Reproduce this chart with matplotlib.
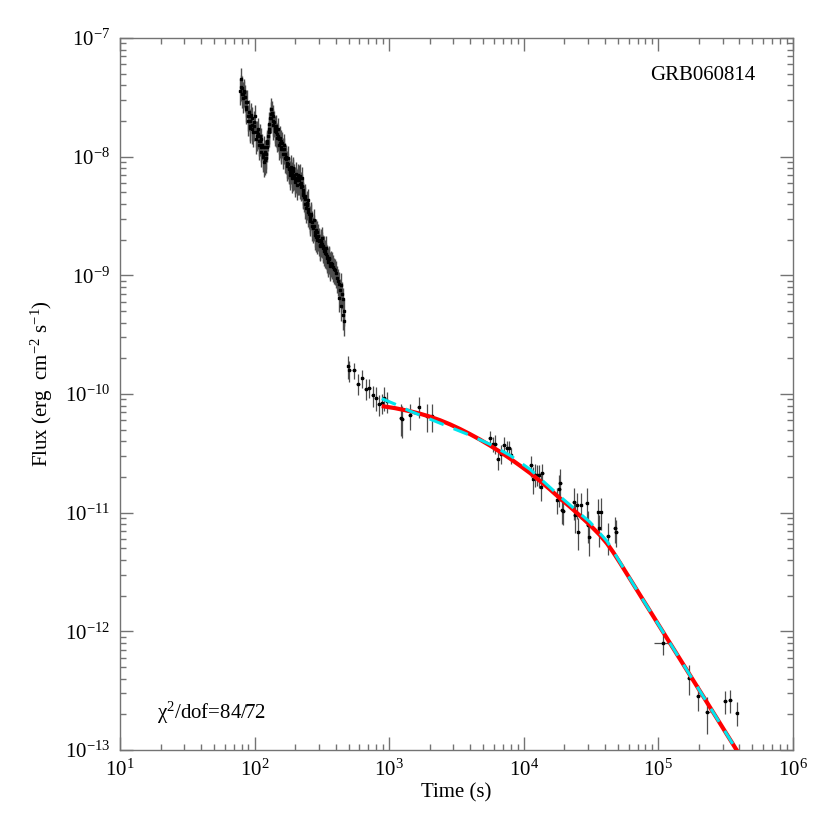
import matplotlib
matplotlib.use("Agg")
import matplotlib.pyplot as plt
from matplotlib.ticker import LogLocator, NullFormatter
import numpy as np

plt.rcParams["font.family"] = ["Liberation Serif", "DejaVu Serif"]
plt.rcParams["mathtext.fontset"] = "custom"
plt.rcParams["mathtext.rm"] = "Liberation Serif"
plt.rcParams["mathtext.it"] = "Liberation Serif:italic"
plt.rcParams["axes.unicode_minus"] = False

# early steep decay + flares
t_early = [78.5, 79.3, 80.1, 81.2, 82.6, 84.0, 85.6, 87.0, 88.6, 90.1,
           91.7, 93.2, 94.9, 96.4, 98.2, 100.5, 101.6, 103.3, 105.1, 106.9,
           108.8, 110.7, 112.5, 114.6, 116.5, 118.5, 120.5, 122.6, 124.6, 126.9,
           129.0, 131.3, 133.5, 135.9, 138.1, 140.6, 143.0, 145.5, 148.0, 150.5,
           153.1, 155.8, 158.4, 161.2, 164.0, 166.9, 169.7, 172.6, 175.6, 178.7,
           181.7, 184.8, 188.0, 191.3, 194.5, 197.9, 201.3, 204.8, 208.3, 211.9,
           215.6, 219.3, 223.1, 226.9, 230.8, 234.8, 238.8, 243.0, 247.2, 251.4,
           255.8, 260.1, 264.6, 269.2, 273.9, 278.6, 283.4, 288.3, 293.2, 298.4,
           303.5, 308.8, 314.1, 319.5, 325.0, 330.6, 336.3, 342.1, 348.1, 354.0,
           360.2, 369.5, 382.4, 395.7, 409.5, 420.6, 426.6, 435.5, 441.5, 450.7,
           456.7, 459.0, 461.5,
           79.8, 81.9, 83.3, 84.8, 86.3, 87.8, 89.3, 90.9, 92.4, 94.0,
           95.6, 97.3, 99.3, 102.4, 104.2, 106.0, 107.8, 109.7, 111.6, 113.5,
           115.5, 117.5, 119.5, 121.6, 123.6, 125.8, 128.0, 130.1, 132.4, 134.7,
           137.0, 139.3, 141.8, 144.2, 146.7, 149.2, 151.8, 154.4, 157.1, 159.8,
           162.6, 165.4, 168.3, 171.2, 174.1, 177.2, 180.2, 183.3, 186.4, 189.6,
           192.9, 196.2, 199.6, 203.0, 206.5, 210.1, 213.8, 217.4, 221.2, 225.0,
           228.9, 232.8, 236.8, 240.9, 245.1, 249.3, 253.6, 258.0, 262.4, 266.9,
           271.6, 276.2, 281.0, 285.8, 290.8, 295.8, 301.0, 306.1, 311.4, 316.8,
           322.3, 327.8, 333.4, 339.2, 345.1, 351.0, 357.1, 364.8, 375.9, 389.0,
           402.6, 415.0, 431.0, 446.0]
f_early = [3.6e-8, 4.5e-8, 3.4e-8, 3.8e-8, 3.1e-8, 3.5e-8, 2.9e-8, 2.6e-8, 2.2e-8, 2.4e-8,
           2.0e-8, 1.8e-8, 2.1e-8, 1.7e-8, 1.95e-8, 2.2e-8, 1.6e-8, 1.5e-8, 1.7e-8, 1.35e-8,
           1.5e-8, 1.2e-8, 1.4e-8, 1.05e-8, 1.2e-8, 9.3e-9, 1.05e-8, 1.2e-8, 1.35e-8, 1.7e-8,
           1.9e-8, 2.3e-8, 2.5e-8, 2.0e-8, 2.2e-8, 1.75e-8, 1.6e-8, 1.55e-8, 1.7e-8, 1.4e-8,
           1.3e-8, 1.35e-8, 1.2e-8, 1.15e-8, 1.25e-8, 1.05e-8, 9.5e-9, 8.9e-9, 9.8e-9, 8.0e-9,
           7.4e-9, 8.2e-9, 7.2e-9, 6.9e-9, 7.6e-9, 6.5e-9, 7.2e-9, 6.3e-9, 7.0e-9, 6.8e-9,
           5.9e-9, 6.0e-9, 6.6e-9, 5.2e-9, 4.8e-9, 4.4e-9, 4.0e-9, 3.9e-9, 4.3e-9, 3.4e-9,
           3.1e-9, 3.0e-9, 3.3e-9, 2.6e-9, 2.9e-9, 2.3e-9, 2.1e-9, 2.1e-9, 2.3e-9, 1.95e-9,
           1.8e-9, 1.9e-9, 2.05e-9, 1.75e-9, 1.6e-9, 1.6e-9, 1.7e-9, 1.45e-9, 1.35e-9, 1.4e-9,
           1.25e-9, 1.28e-9, 1.18e-9, 1.1e-9, 9.5e-10, 8.5e-10, 6.5e-10, 8.3e-10, 5.5e-10, 6.3e-10,
           4.6e-10, 5.0e-10, 4.1e-10,
           3.9e-8, 3.4e-8, 3.6e-8, 3.2e-8, 2.5e-8, 2.9e-8, 2.0e-8, 2.2e-8, 1.75e-8, 2.25e-8,
           1.85e-8, 1.6e-8, 1.8e-8, 1.4e-8, 1.6e-8, 1.55e-8, 1.25e-8, 1.35e-8, 1.1e-8, 1.25e-8,
           1.0e-8, 9.0e-9, 1.1e-8, 9.8e-9, 1.3e-8, 1.5e-8, 1.6e-8, 2.1e-8, 2.1e-8, 2.35e-8,
           1.85e-8, 1.95e-8, 1.65e-8, 1.8e-8, 1.45e-8, 1.5e-8, 1.25e-8, 1.45e-8, 1.15e-8, 1.3e-8,
           1.05e-8, 1.15e-8, 9.8e-9, 1.0e-8, 8.3e-9, 8.6e-9, 7.8e-9, 7.0e-9, 7.8e-9, 6.6e-9,
           8.0e-9, 7.0e-9, 6.1e-9, 6.6e-9, 5.8e-9, 6.4e-9, 6.3e-9, 6.9e-9, 5.6e-9, 5.7e-9,
           4.9e-9, 4.6e-9, 4.7e-9, 3.7e-9, 4.1e-9, 3.6e-9, 3.3e-9, 2.85e-9, 3.2e-9, 2.8e-9,
           2.5e-9, 2.6e-9, 2.2e-9, 2.4e-9, 2.0e-9, 2.15e-9, 2.0e-9, 1.75e-9, 1.95e-9, 1.85e-9,
           1.7e-9, 1.7e-9, 1.55e-9, 1.5e-9, 1.4e-9, 1.3e-9, 1.38e-9, 1.2e-9, 1.25e-9, 1.12e-9,
           1.05e-9, 9.0e-10, 7.5e-10, 7.0e-10]
early_rel_err = 0.25

# later XRT data
t_late = [497, 506, 547, 589, 631, 669, 711, 754, 798, 840,
          880, 920, 958, 1217, 1251, 1428, 1657, 1901, 2071,
          5610, 5870, 6110, 6400, 6730, 7160, 7460, 7760, 7990,
          11300, 11770, 12110, 12590, 13030, 13350, 13710,
          17740, 18270, 18590, 19140, 19650,
          23600, 24000, 24700, 25400, 26500,
          29300, 29800, 30700, 35800, 36400, 37300, 42400, 47600, 48500,
          108700, 168700, 197700, 230700, 312300, 340600, 381700]
f_late = [1.72e-10, 1.58e-10, 1.58e-10, 1.22e-10, 1.36e-10, 1.11e-10, 1.13e-10, 9.8e-11, 9.3e-11, 8.2e-11,
          8.4e-11, 9.3e-11, 8.7e-11, 6.3e-11, 6.1e-11, 6.6e-11, 7.8e-11, 6.5e-11, 6.5e-11,
          4.26e-11, 3.8e-11, 3.8e-11, 2.86e-11, 3.13e-11, 3.75e-11, 3.51e-11, 3.51e-11, 3.04e-11,
          2.5e-11, 1.93e-11, 2.09e-11, 2.09e-11, 2.06e-11, 1.66e-11, 2.16e-11,
          1.29e-11, 1.59e-11, 1.78e-11, 1.06e-11, 1.04e-11,
          1.24e-11, 9.6e-12, 1.17e-11, 6.9e-12, 1.17e-11,
          1.2e-11, 7.9e-12, 6.2e-12, 1.01e-11, 7.4e-12, 1.02e-11, 6.3e-12, 7.4e-12, 6.9e-12,
          7.9e-13, 4.06e-13, 2.83e-13, 2.09e-13, 2.57e-13, 2.62e-13, 2.06e-13]
late_rel_err = [0.22, 0.2, 0.15, 0.2, 0.18, 0.2, 0.18, 0.2, 0.22, 0.2,
                0.2, 0.22, 0.2, 0.3, 0.3, 0.25, 0.2, 0.27, 0.27,
                0.15, 0.15, 0.18, 0.2, 0.18, 0.15, 0.15, 0.15, 0.15,
                0.2, 0.25, 0.22, 0.2, 0.22, 0.25, 0.2,
                0.25, 0.3, 0.3, 0.25, 0.25,
                0.3, 0.3, 0.25, 0.3, 0.25,
                0.35, 0.3, 0.3, 0.3, 0.3, 0.3, 0.3, 0.25, 0.25,
                0.2, 0.28, 0.25, 0.35, 0.22, 0.22, 0.22]
late_rel_terr = [0.03] * 54 + [0.14, 0.03, 0.03, 0.04, 0.03, 0.03, 0.03]

# model fits (red solid, cyan dashed)
t_red = [880, 1104, 1427, 1694, 2010, 2385, 2830, 3357, 3984, 4727, 5609, 6656, 7898, 9372,
         11120, 13200, 15650, 18580, 22040, 26150, 31030, 36830, 41510, 45990, 51840, 64750,
         115300, 203800, 390300, 439900]
f_red = [7.91e-11, 7.60e-11, 7.16e-11, 6.82e-11, 6.44e-11, 6.01e-11, 5.55e-11, 5.07e-11, 4.59e-11,
         4.13e-11, 3.68e-11, 3.26e-11, 2.86e-11, 2.49e-11, 2.16e-11, 1.85e-11, 1.57e-11, 1.32e-11,
         1.12e-11, 9.42e-12, 7.87e-12, 6.46e-12, 5.50e-12, 4.67e-12, 3.78e-12, 2.52e-12,
         8.81e-13, 3.13e-13, 9.57e-14, 7.7e-14]
t_cyan = [880, 1104, 1427, 2010, 2830, 3984, 5609, 7898, 11120, 18580, 31030, 41510, 45990,
          51840, 64750, 115300, 203800, 390300, 439900]
f_cyan = [9.14e-11, 8.22e-11, 7.18e-11, 6.14e-11, 5.25e-11, 4.49e-11, 3.77e-11, 3.04e-11,
          2.32e-11, 1.37e-11, 8.32e-12, 5.75e-12, 4.79e-12, 3.82e-12, 2.52e-12, 8.81e-13,
          3.13e-13, 9.57e-14, 7.7e-14]

fig = plt.figure(figsize=(8.3, 8.3), dpi=100)
ax = fig.add_axes([0.1446, 0.0964, 0.8108, 0.8578])

fe = np.array(f_early)
ax.errorbar(t_early, f_early, yerr=fe * early_rel_err, fmt="s", ms=1.6, color="black",
            ecolor="0.3", elinewidth=1.0, capsize=0, zorder=2)

tl = np.array(t_late, dtype=float)
fl = np.array(f_late)
ax.errorbar(tl, fl, yerr=fl * np.array(late_rel_err), xerr=tl * np.array(late_rel_terr),
            fmt="s", ms=1.8, color="black", ecolor="0.3", elinewidth=0.9, capsize=0, zorder=2)

ax.plot(t_red, f_red, color="red", lw=3.0, solid_capstyle="butt", zorder=3)
ax.plot(t_cyan, f_cyan, color="#00e5ee", lw=2.2, ls=(0, (5, 3.5)), zorder=4)

ax.set_xscale("log")
ax.set_yscale("log")
ax.set_xlim(10, 1e6)
ax.set_ylim(1e-13, 1e-7)

ax.set_xticks([1e1, 1e2, 1e3, 1e4, 1e5, 1e6])
ax.set_yticks([1e-13, 1e-12, 1e-11, 1e-10, 1e-9, 1e-8, 1e-7])
for axis in (ax.xaxis, ax.yaxis):
    axis.set_minor_locator(LogLocator(base=10, subs=np.arange(2, 10), numticks=100))
    axis.set_minor_formatter(NullFormatter())

ax.tick_params(which="both", direction="in", top=True, right=True, color="0.45", width=1.0)
ax.tick_params(which="major", length=9.5, labelsize=15, pad=7)
ax.tick_params(which="minor", length=4.5)
for sp in ax.spines.values():
    sp.set_color("0.45")
    sp.set_linewidth(1.0)

ax.set_xlabel("Time (s)", fontsize=15, labelpad=2)
ax.set_ylabel("Flux (erg  cm$^{-2}$ s$^{-1}$)", fontsize=15)
ax.yaxis.set_label_coords(-0.097, 0.515)

ax.text(0.944, 0.948, "GRB060814", transform=ax.transAxes, ha="right", va="center", fontsize=15)
ax.text(0.055, 0.052, "χ$^{2}$/dof=84/72", transform=ax.transAxes, ha="left", va="center",
        fontsize=15)

fig.savefig("out.png", dpi=100)
